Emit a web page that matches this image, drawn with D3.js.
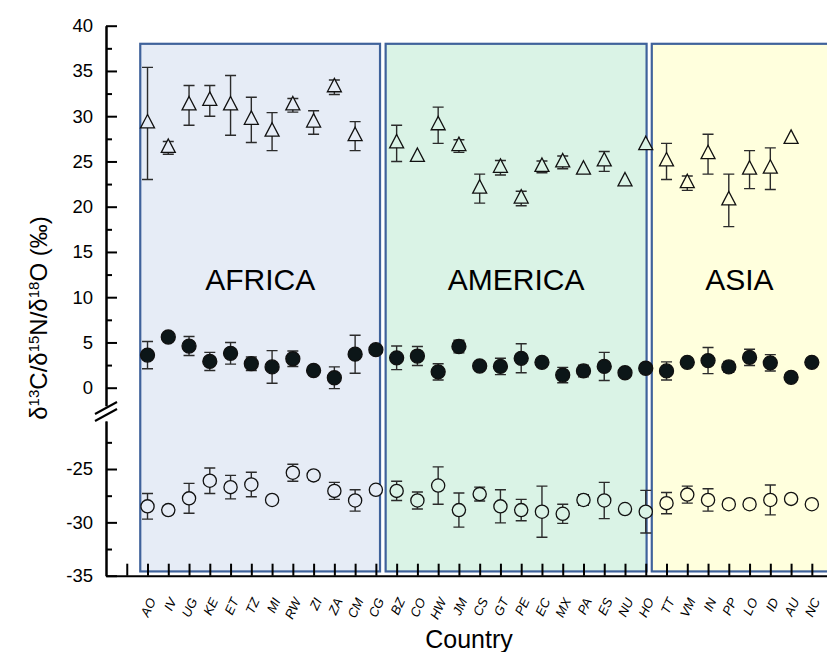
<!DOCTYPE html>
<html>
<head>
<meta charset="utf-8">
<script src="https://cdn.jsdelivr.net/npm/d3@7"></script>
<style>
  body { margin: 0; background: #fff; }
  svg text { font-family: "Liberation Sans", Arial, sans-serif; }
</style>
</head>
<body>
<div id="chart"></div>
<script>
// country codes, in plot order (index 1..33 on the x axis)
var countries = ["AO","IV","UG","KE","ET","TZ","MI","RW","ZI","ZA","CM","CG",
                 "BZ","CO","HW","JM","CS","GT","PE","EC","MX","PA","ES","NU","HO",
                 "TT","VM","IN","PP","LO","ID","AU","NC"];

// regions and their spans in x-index units
var regionNames = ["AFRICA", "AMERICA", "ASIA"];
var regionStart = [0.65, 12.47, 25.29];
var regionEnd   = [12.2, 25.04, 34.4];
var regionFill  = ["#e6ecf6", "#daf3e6", "#ffffdd"];

// triangles (d18O), upper panel
var d18O   = [29.2, 26.5, 31.2, 31.7, 31.2, 29.6, 28.3, 31.2, 29.3, 33.2, 27.8, null,
              27.0, 25.5, 29.0, 26.7, 22.0, 24.3, 20.9, 24.4, 24.9, 24.1, 25.0, 22.8, 26.8,
              25.0, 22.6, 25.8, 20.7, 24.1, 24.2, 27.5, null];
var d18OSd = [6.2, 0.7, 2.2, 1.7, 3.3, 2.5, 2.1, 0.75, 1.3, 0.8, 1.6, null,
              2.0, null, 2.0, 0.7, 1.6, 0.8, 0.8, 0.65, 0.7, null, 1.1, null, null,
              2.0, 0.8, 2.2, 2.9, 2.1, 2.3, null, null];

// filled circles (d15N), upper panel
var d15N   = [3.6, 5.6, 4.6, 2.9, 3.8, 2.65, 2.3, 3.2, 1.9, 1.1, 3.7, 4.2,
              3.3, 3.5, 1.75, 4.55, 2.4, 2.35, 3.25, 2.8, 1.4, 1.85, 2.35, 1.65, 2.15,
              1.85, 2.8, 3.0, 2.3, 3.35, 2.75, 1.15, 2.8];
var d15NSd = [1.5, null, 1.05, 1.0, 1.2, 0.75, 1.8, 0.85, null, 1.2, 2.1, null,
              1.3, 1.05, 0.9, 0.7, null, 0.9, 1.6, null, 0.85, 0.65, 1.55, null, null,
              1.0, null, 1.45, 0.6, 0.9, 0.9, null, null];

// open circles (d13C), lower panel
var d13C   = [-28.5, -28.85, -27.75, -26.1, -26.7, -26.45, -27.9, -25.35, -25.6, -27.05, -27.95, -26.95,
              -27.05, -27.95, -26.55, -28.85, -27.35, -28.5, -28.85, -29.0, -29.2, -27.9, -27.95, -28.75, -29.0,
              -28.2, -27.4, -27.9, -28.3, -28.3, -27.9, -27.8, -28.3];
var d13CSd = [1.2, 0.4, 1.4, 1.2, 1.1, 1.15, 0.3, 0.8, 0.4, 0.8, 1.0, null,
              0.9, 0.8, 1.75, 1.6, 0.65, 1.55, 1.0, 2.4, 0.9, 0.5, 1.7, null, 2.0,
              1.0, 0.8, 1.05, 0.4, 0.4, 1.4, null, null];

var upperTicks = [0, 5, 10, 15, 20, 25, 30, 35, 40];
var upperMinor = [2.5, 7.5, 12.5, 17.5, 22.5, 27.5, 32.5, 37.5];
var lowerTicks = [-35, -30, -25];
var lowerMinor = [-32.5, -27.5, -22.5];

var W = 827, H = 652;

var svg = d3.select('#chart')
            .append('svg')
            .attr('width', W)
            .attr('height', H);

var x = d3.scaleLinear().domain([-1, 34]).range([106, 832.6]);
var yTop = d3.scaleLinear().domain([-2, 40]).range([405.8, 25.7]);
var yBot = d3.scaleLinear().domain([-35, -20.5]).range([575.7, 421]);
function yv(v) { return v > -10 ? yTop(v) : yBot(v); }

function regionOf(i) {
    for (var r = 0; r < regionNames.length; r++) {
        if (i >= regionStart[r] && i <= regionEnd[r]) return r;
    }
    return 0;
}

// region panels
var panels = svg.append('g');
regionNames.forEach(function (name, r) {
    var x0 = x(regionStart[r]), x1 = x(regionEnd[r]);
    panels.append('rect')
        .attr('x', x0)
        .attr('y', yTop(38))
        .attr('width', x1 - x0)
        .attr('height', yBot(-34.6) - yTop(38))
        .attr('fill', regionFill[r])
        .attr('stroke', '#3f629b')
        .attr('stroke-width', 2.2);
    var cx = (x0 + Math.min(x1, W)) / 2;
    panels.append('text')
        .attr('x', cx)
        .attr('y', 290)
        .attr('text-anchor', 'middle')
        .attr('font-size', 30)
        .attr('fill', '#000')
        .text(name);
});

// y axes (upper and lower segment); plain hyphen for negatives as in the original
function styleAxis(g) {
    g.selectAll('path, line').attr('stroke', '#000').attr('stroke-width', 2);
    g.selectAll('text').attr('font-size', 18.5).attr('fill', '#000')
        .attr('font-family', '"Liberation Sans", Arial, sans-serif');
}
function plain(d) { return String(d); }

svg.append('g')
    .attr('transform', 'translate(106,0)')
    .call(d3.axisLeft(yTop).tickValues(upperTicks).tickSize(-11).tickSizeOuter(0).tickPadding(13).tickFormat(plain))
    .call(styleAxis);
svg.append('g')
    .attr('transform', 'translate(106,0)')
    .call(d3.axisLeft(yTop).tickValues(upperMinor).tickSize(-6).tickSizeOuter(0).tickFormat(''))
    .call(styleAxis);
svg.append('g')
    .attr('transform', 'translate(106,0)')
    .call(d3.axisLeft(yBot).tickValues(lowerTicks).tickSize(-11).tickSizeOuter(0).tickPadding(13).tickFormat(plain))
    .call(styleAxis);
svg.append('g')
    .attr('transform', 'translate(106,0)')
    .call(d3.axisLeft(yBot).tickValues(lowerMinor).tickSize(-6).tickSizeOuter(0).tickFormat(''))
    .call(styleAxis);

// axis break marks
svg.append('g').selectAll('line')
    .data([0, 7])
    .enter()
    .append('line')
    .attr('x1', 95).attr('x2', 117)
    .attr('y1', function (d) { return 414 + d; })
    .attr('y2', function (d) { return 402 + d; })
    .attr('stroke', '#000')
    .attr('stroke-width', 2);

// x axis
var xAxisG = svg.append('g')
    .attr('transform', 'translate(0,575.7)')
    .call(d3.axisBottom(x)
        .tickValues(d3.range(0, 34))
        .tickSize(-12)
        .tickSizeOuter(0)
        .tickFormat(function (i) { return countries[i - 1] || ''; }));
xAxisG.selectAll('path, line').attr('stroke', '#000').attr('stroke-width', 2);
xAxisG.selectAll('text')
    .attr('font-size', 13)
    .attr('font-style', 'italic')
    .attr('fill', '#000')
    .attr('font-family', '"Liberation Sans", Arial, sans-serif')
    .attr('text-anchor', 'end')
    .attr('y', 0)
    .attr('dy', '0.35em')
    .attr('transform', 'translate(4,23) rotate(-65)');

// axis titles
svg.append('text')
    .attr('x', 469)
    .attr('y', 648)
    .attr('text-anchor', 'middle')
    .attr('font-size', 25)
    .text('Country');

var yTitle = svg.append('text')
    .attr('transform', 'translate(47,318) rotate(-90)')
    .attr('text-anchor', 'middle')
    .attr('font-size', 24);
[['δ', false], ['13', true], ['C/δ', false], ['15', true], ['N/δ', false], ['18', true], ['O (‰)', false]]
    .forEach(function (p) {
        yTitle.append('tspan')
            .attr('font-size', p[1] ? 15 : 24)
            .attr('baseline-shift', p[1] ? '55%' : null)
            .text(p[0]);
    });

// data series
function drawSeries(vals, sds, shape) {
    var pts = [];
    vals.forEach(function (v, k) {
        if (v !== null) pts.push({ i: k + 1, v: v, sd: sds[k] });
    });
    var g = svg.append('g');
    var withErr = pts.filter(function (d) { return d.sd !== null; });
    g.selectAll('path.err')
        .data(withErr)
        .enter()
        .append('path')
        .attr('class', 'err')
        .attr('d', function (d) {
            var cx = x(d.i), t = yv(d.v + d.sd), b = yv(d.v - d.sd);
            return 'M' + cx + ',' + t + 'V' + b +
                   'M' + (cx - 5.5) + ',' + t + 'H' + (cx + 5.5) +
                   'M' + (cx - 5.5) + ',' + b + 'H' + (cx + 5.5);
        })
        .attr('fill', 'none')
        .attr('stroke', '#2b2b2b')
        .attr('stroke-width', 1.4);
    if (shape === 'triangle') {
        g.selectAll('path.mk')
            .data(pts)
            .enter()
            .append('path')
            .attr('d', function (d) {
                var cx = x(d.i), cy = yv(d.v);
                return 'M' + cx + ',' + (cy - 8.9) + 'L' + (cx + 7) + ',' + (cy + 4.5) +
                       'L' + (cx - 7) + ',' + (cy + 4.5) + 'Z';
            })
            .attr('fill', function (d) { return regionFill[regionOf(d.i)]; })
            .attr('stroke', '#111')
            .attr('stroke-width', 1.3);
    } else {
        g.selectAll('circle')
            .data(pts)
            .enter()
            .append('circle')
            .attr('cx', function (d) { return x(d.i); })
            .attr('cy', function (d) { return yv(d.v); })
            .attr('r', shape === 'filled' ? 7 : 6.6)
            .attr('fill', function (d) {
                return shape === 'filled' ? '#0c1618' : regionFill[regionOf(d.i)];
            })
            .attr('stroke', '#111')
            .attr('stroke-width', 1.3);
    }
}

drawSeries(d18O, d18OSd, 'triangle');
drawSeries(d15N, d15NSd, 'filled');
drawSeries(d13C, d13CSd, 'open');
</script>
</body>
</html>
